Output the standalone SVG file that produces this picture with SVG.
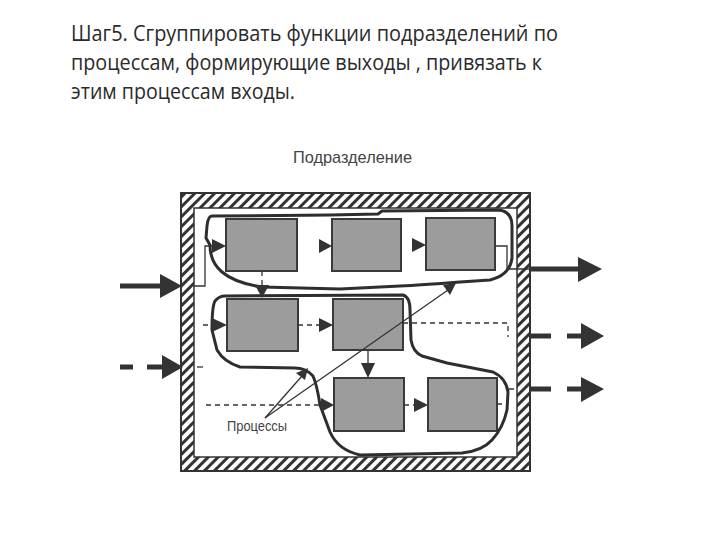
<svg xmlns="http://www.w3.org/2000/svg" width="720" height="540" viewBox="0 0 720 540">
<defs>
<pattern id="hatch" patternUnits="userSpaceOnUse" width="7" height="7" patternTransform="rotate(45)">
<rect width="7" height="7" fill="#ffffff"/>
<rect x="0" y="0" width="3" height="7" fill="#333333"/>
</pattern>
<style>
.title{font-family:"Open Sans","Liberation Sans",sans-serif;font-size:22px;fill:#2a2a2a}
.lbl{font-family:"Liberation Sans",Arial,sans-serif;fill:#444444}
.box{fill:#9c9c9c;stroke:#3a3a3a;stroke-width:2}
.thin{fill:none;stroke:#333333;stroke-width:1.3}
.dash{fill:none;stroke:#333333;stroke-width:1.3;stroke-dasharray:5 4}
.thick{fill:none;stroke:#333333;stroke-width:5}
.ah{fill:#333333}
.outline{fill:none;stroke:#2e2e2e;stroke-width:3;stroke-linejoin:round}
</style>
</defs>
<rect width="720" height="540" fill="#ffffff"/>
<g id="title">
<text class="title" x="71" y="41" textLength="487" lengthAdjust="spacingAndGlyphs">Шаг5. Сгруппировать  функции подразделений по</text>
<text class="title" x="71" y="70" textLength="471" lengthAdjust="spacingAndGlyphs">процессам, формирующие выходы , привязать к</text>
<text class="title" x="71" y="99" textLength="224" lengthAdjust="spacingAndGlyphs">этим процессам входы.</text>
</g>
<g id="department">
<text class="lbl" x="293" y="163" font-size="17" textLength="119" lengthAdjust="spacingAndGlyphs">Подразделение</text>
<path d="M181,193 H530 V471 H181 Z M194,208 V457 H517 V208 Z" fill="url(#hatch)" fill-rule="evenodd"/>
<rect x="181" y="193" width="349" height="278" fill="none" stroke="#333333" stroke-width="2"/>
<rect x="194" y="208" width="323" height="249" fill="none" stroke="#333333" stroke-width="1.5"/>
</g>
<g id="f1"><rect class="box" x="226" y="219" width="71" height="52"/></g>
<g id="f2"><rect class="box" x="332" y="219" width="69" height="52"/></g>
<g id="f3"><rect class="box" x="426" y="218" width="69" height="52"/></g>
<g id="f4"><rect class="box" x="227" y="299" width="71" height="52"/></g>
<g id="f5"><rect class="box" x="333" y="299" width="70" height="51"/></g>
<g id="f6"><rect class="box" x="334" y="378" width="70" height="53"/></g>
<g id="f7"><rect class="box" x="428" y="378" width="69" height="53"/></g>
<g id="processes">
<path class="outline" d="M212,216 L330,215 L378,214 L382,211 L498,210 Q512,211 512,226 L512,258 Q510,275 490,280 L460,282 Q420,285 400,286 L340,289 L262,287 Q235,283 222,272 Q210,262 210,245 L206,238 L207,226 Q208,216 212,216 Z"/>
<path class="outline" d="M225,296 L403,295 Q410,297 410,310 L411,340 Q413,352 422,356 L447,363 L493,372 Q506,378 508,392 L507,410 Q503,428 492,440 Q482,451 462,453 L360,455 Q338,450 330,432 L320,405 Q317,385 313,376 Q306,368 295,368 L240,367 Q224,362 217,350 L212,330 Q212,306 215,301 Q219,296 225,296 Z"/>
<text class="lbl" x="227" y="431" font-size="15" textLength="60" lengthAdjust="spacingAndGlyphs">Процессы</text>
</g>
<g id="connectors">
<line class="thick" x1="120" y1="286" x2="163" y2="286"/>
<polygon class="ah" points="160,274 182,286 160,298"/>
<polyline class="thin" points="194,286 205,286 205,246 214,246"/>
<polygon class="ah" points="212,239 226,246 212,253"/>
<polygon class="ah" points="319,239 332,246 319,253"/>
<polygon class="ah" points="412,238 426,245 412,252"/>
<polyline class="thin" points="495,246 507,246 507,269 530,269"/>
<line class="thick" x1="530" y1="269" x2="580" y2="269"/>
<polygon class="ah" points="578,257 602,269 578,282"/>
<line class="dash" x1="262" y1="271" x2="262" y2="288"/>
<polygon class="ah" points="255,285 262,298 269,285"/>
<line class="thick" x1="120" y1="367" x2="133" y2="367"/>
<line class="thick" x1="147" y1="367" x2="163" y2="367"/>
<polygon class="ah" points="162,355 183,367 162,379"/>
<line class="thin" x1="197" y1="367" x2="203" y2="367"/>
<line class="dash" x1="203" y1="325" x2="214" y2="325"/>
<polygon class="ah" points="212,318 227,325 212,332"/>
<line class="dash" x1="298" y1="325" x2="321" y2="325"/>
<polygon class="ah" points="319,318 333,325 319,332"/>
<polyline class="dash" points="403,323 508,323 508,337"/>
<line class="thick" x1="531" y1="336" x2="551" y2="336"/>
<line class="thick" x1="567" y1="336" x2="584" y2="336"/>
<polygon class="ah" points="581,323 604,336 581,349"/>
<line class="thin" x1="368" y1="350" x2="368" y2="365"/>
<polygon class="ah" points="361,363 368,378 375,363"/>
<line class="dash" x1="206" y1="405" x2="323" y2="405"/>
<polygon class="ah" points="321,398 334,405 321,412"/>
<line class="dash" x1="404" y1="405" x2="416" y2="405"/>
<polygon class="ah" points="414,398 428,405 414,412"/>
<polyline class="dash" points="497,404 508,404 508,389 517,389"/>
<line class="thick" x1="531" y1="389" x2="551" y2="389"/>
<line class="thick" x1="567" y1="389" x2="584" y2="389"/>
<polygon class="ah" points="581,377 604,389 581,402"/>
<line class="thin" x1="265" y1="418" x2="302" y2="376"/>
<polygon class="ah" points="296,373 308,368 305,380"/>
<line class="thin" x1="265" y1="418" x2="448" y2="290"/>
<polygon class="ah" points="443,285 456,283 450,295"/>
</g>
</svg>
